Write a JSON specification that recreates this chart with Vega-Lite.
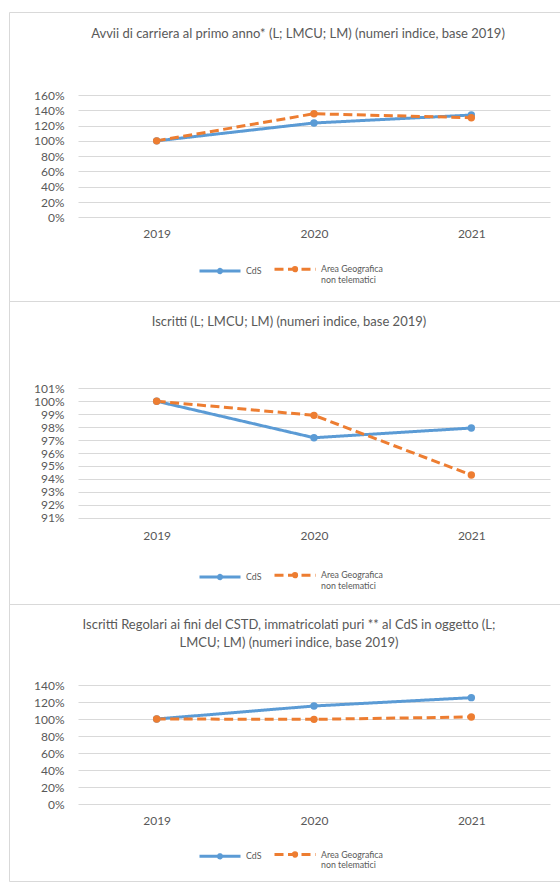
{
  "$schema": "https://vega.github.io/schema/vega-lite/v6.json",
  "padding": {"left": 8, "top": 11, "right": 0, "bottom": 0},
  "background": "white",
  "spacing": 0,
  "bounds": "flush",
  "datasets": {
    "p1": [
      {"anno": "2019", "serie": "CdS", "valore": 1.0},
      {"anno": "2020", "serie": "CdS", "valore": 1.234},
      {"anno": "2021", "serie": "CdS", "valore": 1.338},
      {"anno": "2019", "serie": "Area Geografica non telematici", "valore": 1.0},
      {"anno": "2020", "serie": "Area Geografica non telematici", "valore": 1.355},
      {"anno": "2021", "serie": "Area Geografica non telematici", "valore": 1.303}
    ],
    "p2": [
      {"anno": "2019", "serie": "CdS", "valore": 1.0},
      {"anno": "2020", "serie": "CdS", "valore": 0.9718},
      {"anno": "2021", "serie": "CdS", "valore": 0.9793},
      {"anno": "2019", "serie": "Area Geografica non telematici", "valore": 1.0},
      {"anno": "2020", "serie": "Area Geografica non telematici", "valore": 0.9891},
      {"anno": "2021", "serie": "Area Geografica non telematici", "valore": 0.943}
    ],
    "p3": [
      {"anno": "2019", "serie": "CdS", "valore": 1.0},
      {"anno": "2020", "serie": "CdS", "valore": 1.153},
      {"anno": "2021", "serie": "CdS", "valore": 1.251},
      {"anno": "2019", "serie": "Area Geografica non telematici", "valore": 1.0},
      {"anno": "2020", "serie": "Area Geografica non telematici", "valore": 0.996},
      {"anno": "2021", "serie": "Area Geografica non telematici", "valore": 1.024}
    ]
  },
  "vconcat": [
    {
      "width": 551,
      "height": 289,
      "data": {"name": "p1"},
      "title": {"text": "Avvii di carriera al primo anno* (L; LMCU; LM) (numeri indice, base 2019)", "dx": 13.5, "offset": -34.6, "baseline": "middle"},
      "encoding": {
        "x": {"field": "anno", "type": "ordinal", "scale": {"type": "point", "range": [69, 541], "padding": 0.5},
              "axis": {"title": null, "offset": -83.7, "labelPadding": 16.5, "labelBaseline": "middle", "grid": false, "domain": false, "ticks": false, "tickSize": 0, "labelAngle": 0}},
        "y": {"field": "valore", "type": "quantitative", "scale": {"domain": [0, 1.6], "range": [205.3, 83], "nice": false, "zero": false},
              "axis": {"title": null, "format": ".0%", "values": [0, 0.2, 0.4, 0.6, 0.8, 1.0, 1.2, 1.4, 1.6], "offset": -69, "labelPadding": 14, "domain": false, "ticks": false, "tickSize": 0, "grid": true}}
      },
      "layer": [
        {
          "mark": {"type": "line", "strokeWidth": 3},
          "encoding": {
            "color": {"field": "serie", "type": "nominal", "scale": {"domain": ["CdS", "Area Geografica non telematici"], "range": ["#5B9BD5", "#ED7D31"]},
                      "legend": {"title": null, "orient": "none", "legendX": 189, "legendY": 245, "direction": "horizontal", "columns": 2, "clipHeight": 24, "symbolType": "M-1,0H1M-0.08,0A0.08,0.08,0,1,1,0.08,0A0.08,0.08,0,1,1,-0.08,0", "symbolSize": 1681, "symbolStrokeWidth": 3, "labelOffset": 4, "columnPadding": 11, "labelExpr": "datum.label == 'CdS' ? 'CdS' : ['Area Geografica', 'non telematici']"}},
            "strokeDash": {"field": "serie", "type": "nominal", "scale": {"domain": ["CdS", "Area Geografica non telematici"], "range": [[1, 0], [9, 4.5]]},
                      "legend": {"title": null, "orient": "none", "legendX": 189, "legendY": 245, "direction": "horizontal", "columns": 2, "clipHeight": 24, "symbolType": "M-1,0H1M-0.08,0A0.08,0.08,0,1,1,0.08,0A0.08,0.08,0,1,1,-0.08,0", "symbolSize": 1681, "symbolStrokeWidth": 3, "labelOffset": 4, "columnPadding": 11, "labelExpr": "datum.label == 'CdS' ? 'CdS' : ['Area Geografica', 'non telematici']"}}
          }
        },
        {
          "mark": {"type": "point", "filled": true, "size": 55, "opacity": 1},
          "encoding": {
            "color": {"field": "serie", "type": "nominal", "scale": {"domain": ["CdS", "Area Geografica non telematici"], "range": ["#5B9BD5", "#ED7D31"]}, "legend": null}
          }
        }
      ]
    },
    {
      "width": 551,
      "height": 303,
      "data": {"name": "p2"},
      "title": {"text": "Iscritti (L; LMCU; LM) (numeri indice, base 2019)", "dx": 4.5, "offset": -34.4, "baseline": "middle"},
      "encoding": {
        "x": {"field": "anno", "type": "ordinal", "scale": {"type": "point", "range": [69, 541], "padding": 0.5},
              "axis": {"title": null, "offset": -86.3, "labelPadding": 17.7, "labelBaseline": "middle", "grid": false, "domain": false, "ticks": false, "tickSize": 0, "labelAngle": 0}},
        "y": {"field": "valore", "type": "quantitative", "scale": {"domain": [0.91, 1.01], "range": [216.7, 87.3], "nice": false, "zero": false},
              "axis": {"title": null, "format": ".0%", "values": [0.91, 0.92, 0.93, 0.94, 0.95, 0.96, 0.97, 0.98, 0.99, 1.0, 1.01], "offset": -69, "labelPadding": 14, "domain": false, "ticks": false, "tickSize": 0, "grid": true}}
      },
      "layer": [
        {
          "mark": {"type": "line", "strokeWidth": 3},
          "encoding": {
            "color": {"field": "serie", "type": "nominal", "scale": {"domain": ["CdS", "Area Geografica non telematici"], "range": ["#5B9BD5", "#ED7D31"]},
                      "legend": {"title": null, "orient": "none", "legendX": 189, "legendY": 262, "direction": "horizontal", "columns": 2, "clipHeight": 24, "symbolType": "M-1,0H1M-0.08,0A0.08,0.08,0,1,1,0.08,0A0.08,0.08,0,1,1,-0.08,0", "symbolSize": 1681, "symbolStrokeWidth": 3, "labelOffset": 4, "columnPadding": 11, "labelExpr": "datum.label == 'CdS' ? 'CdS' : ['Area Geografica', 'non telematici']"}},
            "strokeDash": {"field": "serie", "type": "nominal", "scale": {"domain": ["CdS", "Area Geografica non telematici"], "range": [[1, 0], [9, 4.5]]},
                      "legend": {"title": null, "orient": "none", "legendX": 189, "legendY": 262, "direction": "horizontal", "columns": 2, "clipHeight": 24, "symbolType": "M-1,0H1M-0.08,0A0.08,0.08,0,1,1,0.08,0A0.08,0.08,0,1,1,-0.08,0", "symbolSize": 1681, "symbolStrokeWidth": 3, "labelOffset": 4, "columnPadding": 11, "labelExpr": "datum.label == 'CdS' ? 'CdS' : ['Area Geografica', 'non telematici']"}}
          }
        },
        {
          "mark": {"type": "point", "filled": true, "size": 55, "opacity": 1},
          "encoding": {
            "color": {"field": "serie", "type": "nominal", "scale": {"domain": ["CdS", "Area Geografica non telematici"], "range": ["#5B9BD5", "#ED7D31"]}, "legend": null}
          }
        }
      ]
    },
    {
      "width": 551,
      "height": 277,
      "data": {"name": "p3"},
      "title": {"text": ["Iscritti Regolari ai fini del CSTD, immatricolati puri ** al CdS in oggetto (L;", "LMCU; LM) (numeri indice, base 2019)"], "dx": 4.5, "offset": -52, "baseline": "middle", "lineHeight": 17.7},
      "encoding": {
        "x": {"field": "anno", "type": "ordinal", "scale": {"type": "point", "range": [69, 541], "padding": 0.5},
              "axis": {"title": null, "offset": -77, "labelPadding": 16.7, "labelBaseline": "middle", "grid": false, "domain": false, "ticks": false, "tickSize": 0, "labelAngle": 0}},
        "y": {"field": "valore", "type": "quantitative", "scale": {"domain": [0, 1.4], "range": [200, 81], "nice": false, "zero": false},
              "axis": {"title": null, "format": ".0%", "values": [0, 0.2, 0.4, 0.6, 0.8, 1.0, 1.2, 1.4], "offset": -69, "labelPadding": 14, "domain": false, "ticks": false, "tickSize": 0, "grid": true}}
      },
      "layer": [
        {
          "mark": {"type": "line", "strokeWidth": 3},
          "encoding": {
            "color": {"field": "serie", "type": "nominal", "scale": {"domain": ["CdS", "Area Geografica non telematici"], "range": ["#5B9BD5", "#ED7D31"]},
                      "legend": {"title": null, "orient": "none", "legendX": 189, "legendY": 238.3, "direction": "horizontal", "columns": 2, "clipHeight": 24, "symbolType": "M-1,0H1M-0.08,0A0.08,0.08,0,1,1,0.08,0A0.08,0.08,0,1,1,-0.08,0", "symbolSize": 1681, "symbolStrokeWidth": 3, "labelOffset": 4, "columnPadding": 11, "labelExpr": "datum.label == 'CdS' ? 'CdS' : ['Area Geografica', 'non telematici']"}},
            "strokeDash": {"field": "serie", "type": "nominal", "scale": {"domain": ["CdS", "Area Geografica non telematici"], "range": [[1, 0], [9, 4.5]]},
                      "legend": {"title": null, "orient": "none", "legendX": 189, "legendY": 238.3, "direction": "horizontal", "columns": 2, "clipHeight": 24, "symbolType": "M-1,0H1M-0.08,0A0.08,0.08,0,1,1,0.08,0A0.08,0.08,0,1,1,-0.08,0", "symbolSize": 1681, "symbolStrokeWidth": 3, "labelOffset": 4, "columnPadding": 11, "labelExpr": "datum.label == 'CdS' ? 'CdS' : ['Area Geografica', 'non telematici']"}}
          }
        },
        {
          "mark": {"type": "point", "filled": true, "size": 55, "opacity": 1},
          "encoding": {
            "color": {"field": "serie", "type": "nominal", "scale": {"domain": ["CdS", "Area Geografica non telematici"], "range": ["#5B9BD5", "#ED7D31"]}, "legend": null}
          }
        }
      ]
    }
  ],
  "resolve": {"scale": {"color": "independent", "strokeDash": "independent", "x": "independent", "y": "independent"}, "legend": {"color": "independent", "strokeDash": "independent"}},
  "config": {
    "font": "Lato",
    "view": {"stroke": "#D9D9D9", "strokeWidth": 1},
    "axis": {"labelFont": "Lato", "labelFontSize": 12, "labelColor": "#595959", "gridColor": "#D9D9D9", "gridWidth": 1},
    "legend": {"labelFont": "Lato", "labelFontSize": 8.8, "labelColor": "#595959", "padding": 0, "labelLimit": 200},
    "title": {"font": "Lato", "fontSize": 13, "fontWeight": "normal", "color": "#595959", "anchor": "middle", "frame": "group"}
  }
}
